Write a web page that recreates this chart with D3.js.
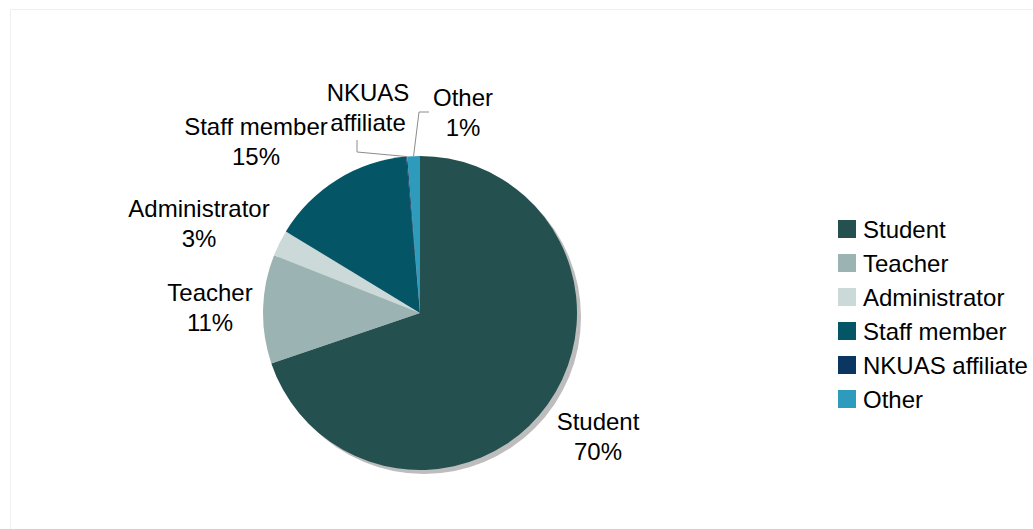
<!DOCTYPE html>
<html>
<head>
<meta charset="utf-8">
<script src="https://cdn.jsdelivr.net/npm/d3@7"></script>
<style>
  html, body { margin: 0; padding: 0; background: #fff; }
  svg { display: block; }
  text { font-family: "Liberation Sans", Arial, sans-serif; fill: #000; }
</style>
</head>
<body>
<svg id="chart" width="1033" height="529"></svg>
<script>
const categories = ["Student", "Teacher", "Administrator", "Staff member", "NKUAS affiliate", "Other"];
const values = [69.8, 11.2, 2.7, 14.9, 0.1, 1.3];
const pctLabels = ["70%", "11%", "3%", "15%", "", "1%"];
const colors = ["#24504f", "#9bb3b3", "#cbd9d8", "#045566", "#0b3661", "#2e9bbd"];

const W = 1033, H = 529;
const cx = 420, cy = 313, R = 157;
const svg = d3.select("#chart");

// faint frame
svg.append("path")
  .attr("d", `M10.5,${H} L10.5,9.5 L${W},9.5`)
  .attr("fill", "none").attr("stroke", "#efefef").attr("stroke-width", 1);

const data = categories.map((c, i) => ({ name: c, value: values[i], pct: pctLabels[i], color: colors[i] }));
const pie = d3.pie().value(d => d.value).sort(null);
const arcs = pie(data);
const arc = d3.arc().innerRadius(0).outerRadius(R);

const g = svg.append("g").attr("transform", `translate(${cx},${cy})`);

// shadow
g.append("circle").attr("cx", 4).attr("cy", 4).attr("r", R)
  .attr("fill", "#bdbdbd");

g.selectAll("path.slice").data(arcs).enter().append("path")
  .attr("class", "slice")
  .attr("d", arc)
  .attr("fill", d => d.data.color);

// label layout (first-line baselines relative to pie centre)
const labelPos = {
  "Student": [178, 117],
  "Teacher": [-210, -12],
  "Administrator": [-221, -96],
  "Staff member": [-164, -178],
  "NKUAS affiliate": [-52, -212],
  "Other": [43, -207]
};
const lh = 30;
arcs.forEach(a => {
  const p = labelPos[a.data.name];
  const lines = a.data.name === "NKUAS affiliate" ? ["NKUAS", "affiliate"] : [a.data.name, a.data.pct];
  const t = g.append("text").attr("text-anchor", "middle").attr("font-size", 24)
    .attr("x", p[0]).attr("y", p[1]);
  lines.forEach((l, i) => {
    t.append("tspan").attr("x", p[0]).attr("dy", i === 0 ? 0 : lh).text(l);
  });
});

// leader lines
const findArc = name => arcs.find(a => a.data.name === name);
function edgePoint(a) {
  const m = (a.startAngle + a.endAngle) / 2;
  return [Math.sin(m) * R, -Math.cos(m) * R];
}
const nk = edgePoint(findArc("NKUAS affiliate"));
const ot = edgePoint(findArc("Other"));
g.append("polyline")
  .attr("points", [[-63, -173], [-63, -161], nk].map(p => p.join(",")).join(" "))
  .attr("fill", "none").attr("stroke", "#8c8c8c").attr("stroke-width", 1);
g.append("polyline")
  .attr("points", [[9, -201], [-1, -201], ot].map(p => p.join(",")).join(" "))
  .attr("fill", "none").attr("stroke", "#8c8c8c").attr("stroke-width", 1);

// legend
const leg = svg.append("g").attr("transform", "translate(838,220)");
const rows = leg.selectAll("g").data(data).enter().append("g")
  .attr("transform", (d, i) => `translate(0,${i * 34})`);
rows.append("rect").attr("width", 18).attr("height", 18).attr("fill", d => d.color);
rows.append("text").attr("x", 25).attr("y", 18).attr("font-size", 24).text(d => d.name);
</script>
</body>
</html>
